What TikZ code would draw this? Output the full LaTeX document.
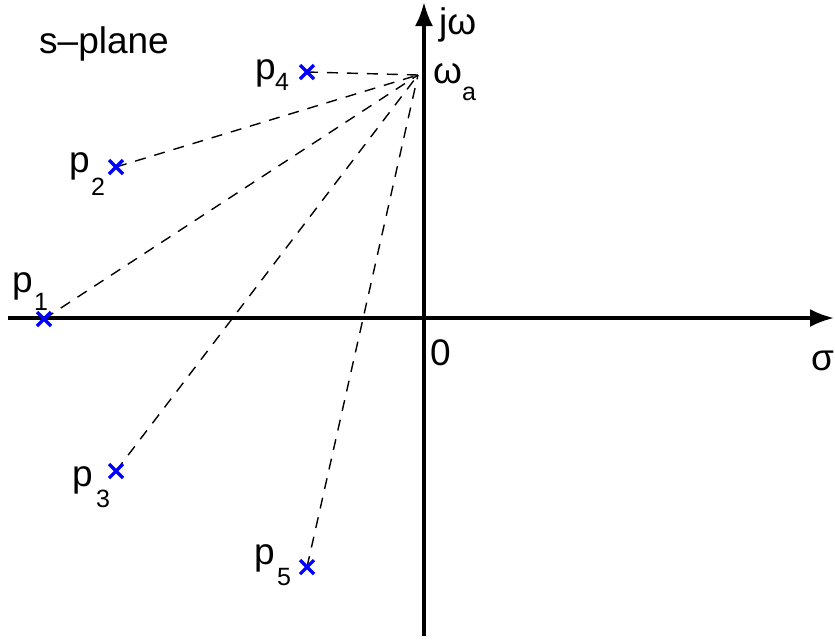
\documentclass[tikz,border=0pt]{standalone}
\usepackage{fontspec}
\setmainfont{Liberation Sans}
\usetikzlibrary{arrows.meta,calc}
\newcommand\mysubfont{\fontsize{25}{30}\selectfont}
\newcommand\mysub[3]{#1\kern#2pt\raisebox{#3pt}{\mysubfont #1}}
\begin{document}
\begin{tikzpicture}[x=1pt,y=-1pt,
  axis/.style={line width=3.5pt,-{Latex[length=24pt,width=18pt]}},
  conn/.style={line width=1.4pt,dash pattern=on 11pt off 9pt},
  pole/.style={blue,line width=3.2pt},
  lbl/.style={font=\fontsize{37}{42}\selectfont,inner sep=0pt}]
\useasboundingbox (0,0) rectangle (835,641);
\coordinate (xl) at (8,318);
\coordinate (xr) at (834,318);
\coordinate (yb) at (424,636);
\coordinate (yt) at (424,2);
\coordinate (wa) at (418,75);
\coordinate (p1) at (44,319);
\coordinate (p2) at (116,167);
\coordinate (p3) at (116,471);
\coordinate (p4) at (307,72);
\coordinate (p5) at (307,567);
\draw[axis] (xl) -- (xr);
\draw[axis] (yb) -- (yt);
\foreach \p in {p1,p2,p3,p4,p5} \draw[conn] (\p) -- (wa);
\foreach \p in {p1,p2,p3,p4,p5} {
  \draw[pole] ($(\p)+(-7,-7)$) -- ($(\p)+(7,7)$);
  \draw[pole] ($(\p)+(-7,7)$) -- ($(\p)+(7,-7)$);
}
\node[lbl,anchor=base west] (splane) at (39,53) {s–plane};
\node[lbl,anchor=base west] (jw) at (439,34) {jω};
\node[lbl,anchor=base west] (wal) at (433,83) {ω\kern0pt\raisebox{-17pt}{\mysubfont a}};
\node[lbl,anchor=base west] (zero) at (430,365) {0};
\node[lbl,anchor=base west] (sigma) at (811,370) {σ};
\node[lbl,anchor=base west] (l1) at (12,292) {p\kern1.4pt\raisebox{-18pt}{\mysubfont 1}};
\node[lbl,anchor=base west] (l2) at (69,172) {p\kern1.4pt\raisebox{-23pt}{\mysubfont 2}};
\node[lbl,anchor=base west] (l3) at (72,486) {p\kern3.4pt\raisebox{-21pt}{\mysubfont 3}};
\node[lbl,anchor=base west] (l4) at (255,79) {p\kern-0.6pt\raisebox{-11pt}{\mysubfont 4}};
\node[lbl,anchor=base west] (l5) at (254,564) {p\kern2.4pt\raisebox{-21pt}{\mysubfont 5}};
\end{tikzpicture}
\end{document}
